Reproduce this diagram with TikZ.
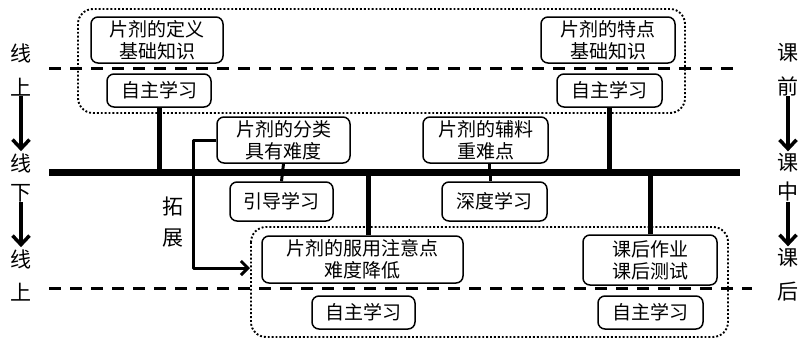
\documentclass[tikz,border=0pt]{standalone}
\usepackage{fontspec}
\setmainfont{Noto Sans CJK SC}
\usetikzlibrary{arrows.meta, calc}

\begin{document}
\begin{tikzpicture}[x=1pt, y=-1pt, line join=round,
    font=\fontsize{19}{22}\selectfont,
    card/.style={draw, line width=1.5pt, rounded corners=7pt, align=center, inner sep=0pt},
    zone/.style={line width=1.9pt, dotted, rounded corners=15pt},
    border/.style={line width=3pt, dash pattern=on 12pt off 9pt},
    stem/.style={line width=5pt},
    twig/.style={line width=3pt},
    side/.style={inner sep=0pt, font=\fontsize{21}{24}\selectfont},
    flow/.style={line width=3.5pt, shorten >=2pt, -{Straight Barb[length=9pt, width=17pt, line width=3.5pt]}}]

    \useasboundingbox (0,0) rectangle (806,340);

    % ==========================================
    % ZONES AND BORDER LINES
    % ==========================================

    % dotted zones: before class (top) and after class (bottom)
    \draw[zone] (78,9) rectangle (685,113);
    \draw[zone] (251,227) rectangle (728,337);

    % online / offline borders
    \draw[border] (49,68) -- (737,68);
    \draw[border] (49,288) -- (752,288);

    % main time axis
    \coordinate (mL) at (49,172);
    \coordinate (mR) at (740,172);
    \draw[line width=7pt] (mL) -- (mR);

    % ==========================================
    % CARDS
    % ==========================================

    % before class
    \node[card, minimum width=132pt, minimum height=46pt] (def) at (157,40) {片剂的定义\\基础知识};
    \node[card, minimum width=104pt, minimum height=33pt] (selfA) at (159,90.5) {自主学习};
    \node[card, minimum width=134pt, minimum height=46pt] (feat) at (608,40) {片剂的特点\\基础知识};
    \node[card, minimum width=105pt, minimum height=33pt] (selfB) at (609.5,90.5) {自主学习};

    % in class
    \node[card, minimum width=133pt, minimum height=46pt] (kind) at (283.5,140) {片剂的分类\\具有难度};
    \node[card, minimum width=125pt, minimum height=46pt] (aux) at (485.5,140) {片剂的辅料\\重难点};
    \node[card, minimum width=103pt, minimum height=39pt] (guide) at (281.5,201.5) {引导学习};
    \node[card, minimum width=105pt, minimum height=39pt] (deep) at (494.5,201.5) {深度学习};

    % after class
    \node[card, minimum width=201pt, minimum height=47pt] (use) at (362.5,259.5) {片剂的服用注意点\\难度降低};
    \node[card, minimum width=134pt, minimum height=50pt] (work) at (650,260) {课后作业\\课后测试};
    \node[card, minimum width=103pt, minimum height=33pt] (selfC) at (363.5,312.5) {自主学习};
    \node[card, minimum width=105pt, minimum height=33pt] (selfD) at (650.5,312.5) {自主学习};

    % ==========================================
    % CONNECTORS
    % ==========================================

    \draw[stem] (selfA.south) -- (selfA.south |- mL);
    \draw[stem] (selfB.south) -- (selfB.south |- mL);
    \draw[stem] ([xshift=6pt]use.north) -- ([xshift=6pt]use.north |- mL);
    \draw[stem] (work.north) -- (work.north |- mL);

    \draw[twig] (kind.south) -- (guide.north);
    \draw[twig] ([xshift=4pt]aux.south) -- ([xshift=4pt]aux.south |- mL);
    \draw[twig] ([xshift=-4pt]deep.north) -- ([xshift=-4pt]deep.north |- mL);

    % expansion arrow
    \coordinate (expEnd) at (250,268);
    \draw[line width=3pt, -{Straight Barb[length=7pt, width=14pt, line width=3pt]}]
        (kind.west) -- ++(-23,0) |- (expEnd);
    \node[side] (ext1) at (173,207) {拓};
    \node[side] (ext2) at (173,238) {展};

    % ==========================================
    % SIDE LABELS
    % ==========================================

    \foreach \t/\y [count=\i] in {线/53, 上/87, 线/163, 下/193, 线/259, 上/292}
        \node[side] (L\i) at (21,\y) {\t};
    \foreach \t/\y [count=\i] in {课/53, 前/86, 课/163, 中/192, 课/258, 后/292}
        \node[side] (R\i) at (788,\y) {\t};

    \draw[flow] (L2) -- (L3);
    \draw[flow] (L4) -- (L5);
    \draw[flow] (R2) -- (R3);
    \draw[flow] (R4) -- (R5);

\end{tikzpicture}
\end{document}
